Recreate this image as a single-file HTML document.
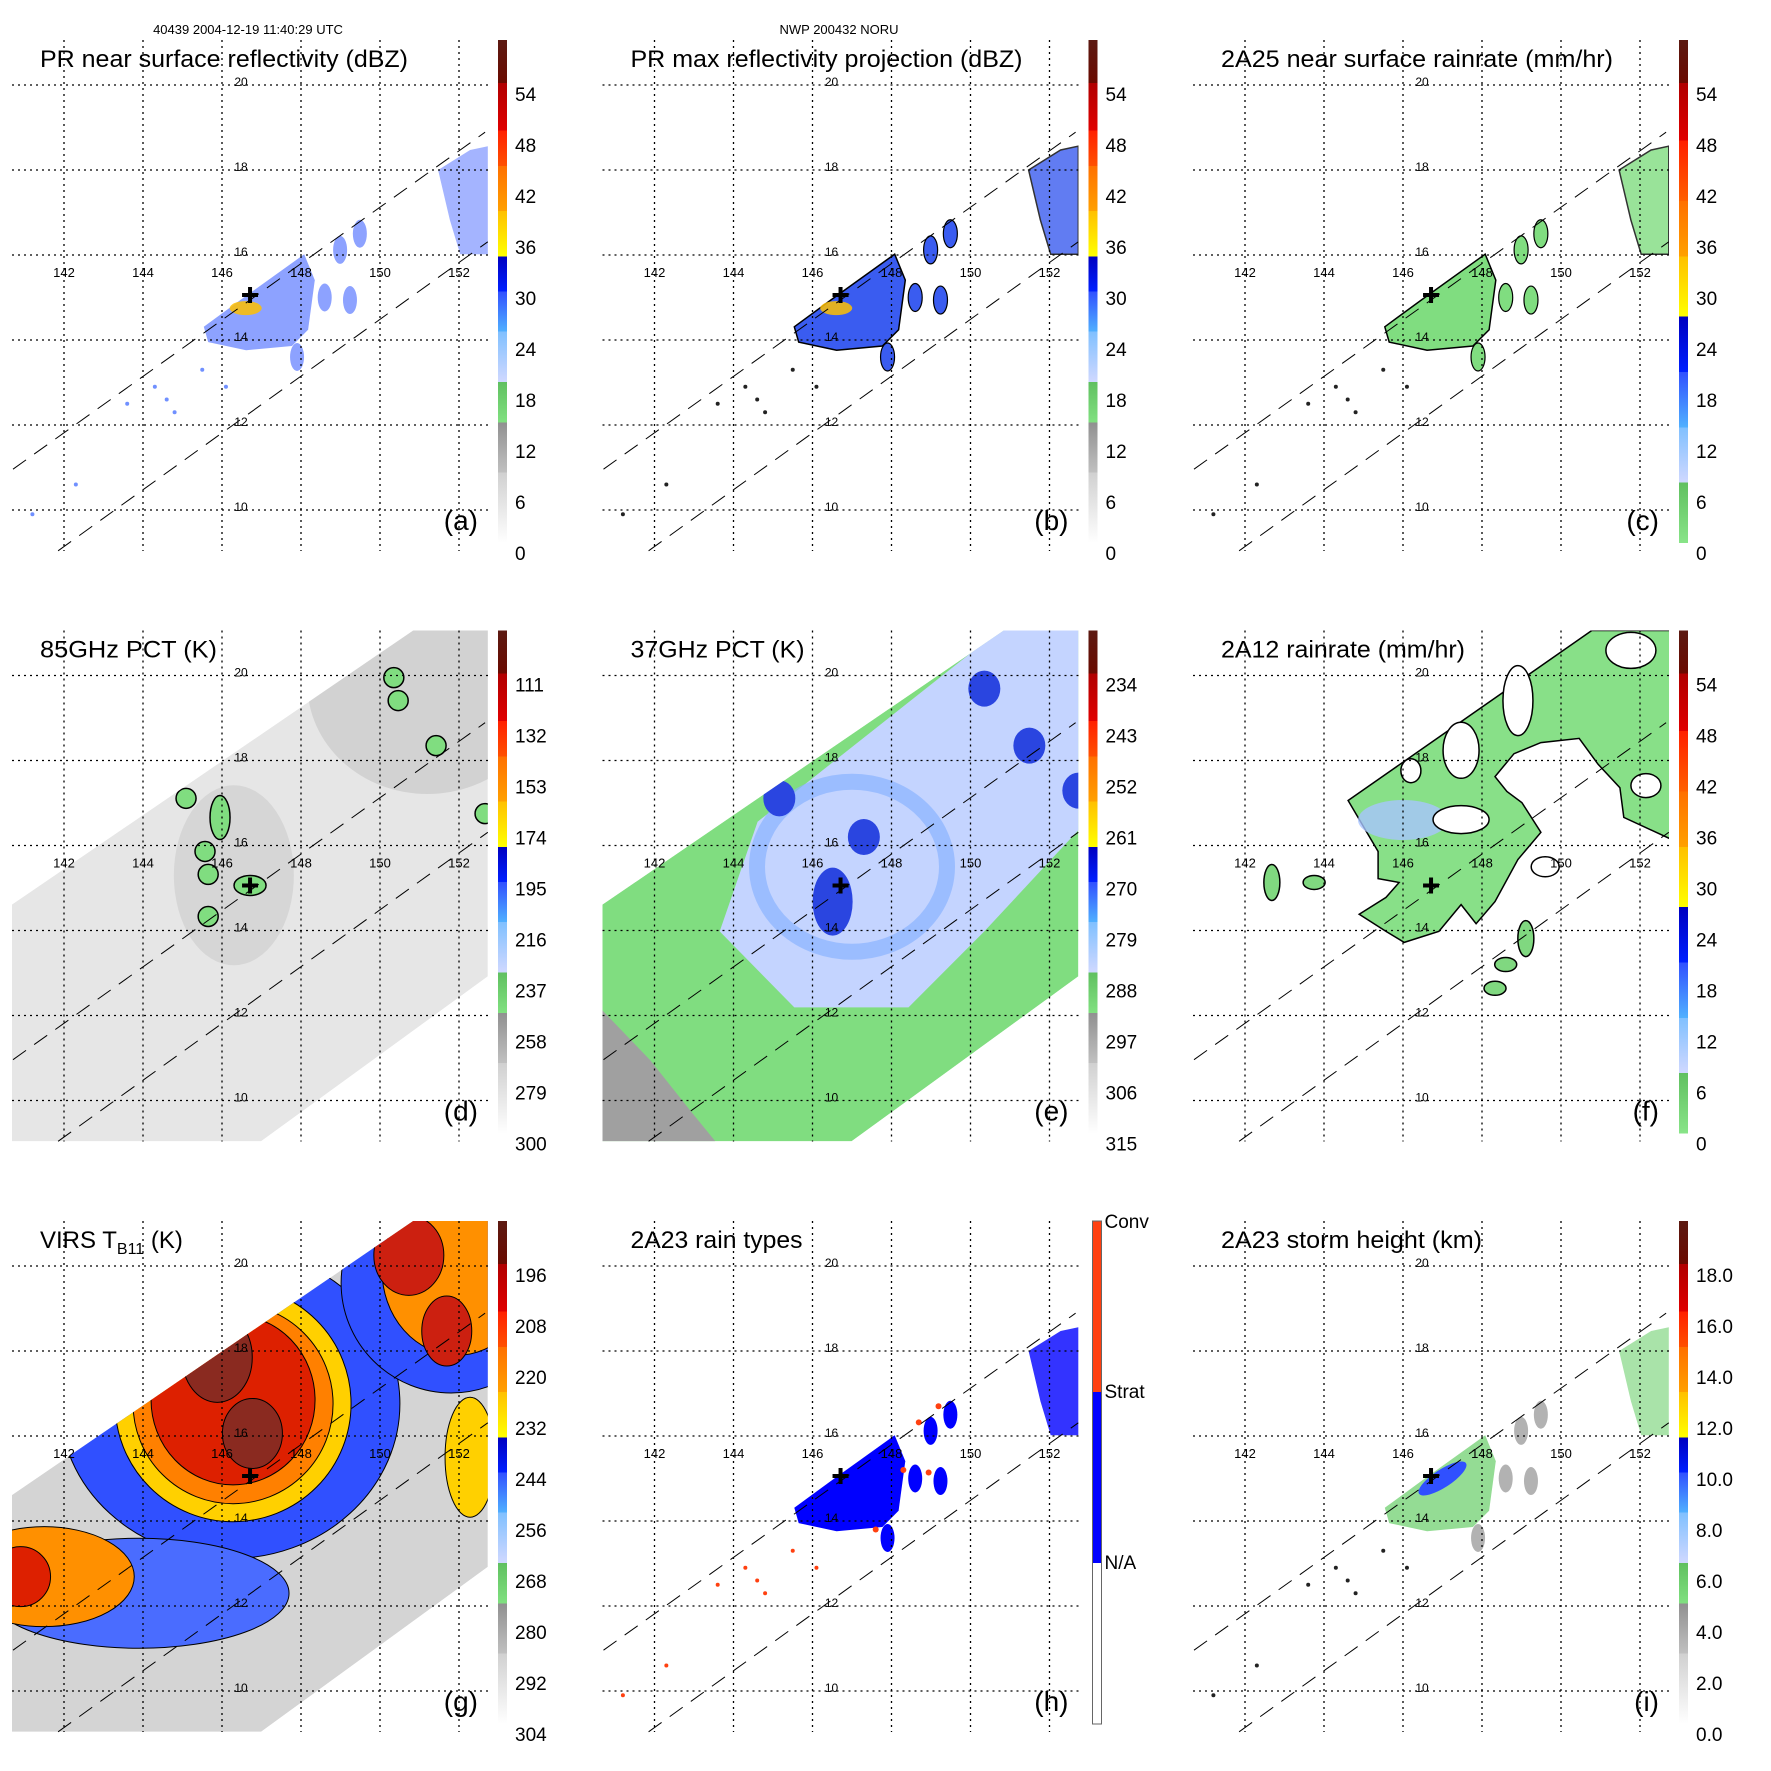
<!DOCTYPE html>
<html><head><meta charset="utf-8"><style>
html,body{margin:0;padding:0;background:#fff;}
svg{display:block;font-family:"Liberation Sans",Arial,sans-serif;}
</style></head><body>
<svg id="fig" xmlns="http://www.w3.org/2000/svg" width="1771" height="1771" viewBox="0 0 1771 1771">
<rect x="0" y="0" width="1771" height="1771" fill="#fff"/>
<defs><clipPath id="plotclip"><rect x="12" y="40" width="476" height="511"/></clipPath><clipPath id="swathclip"><polygon id="swathclippoly" points="0,0"/></clipPath></defs>
<text x="248" y="34" font-size="13" text-anchor="middle">40439 2004-12-19 11:40:29 UTC</text>
<text x="839" y="34" font-size="13" text-anchor="middle">NWP 200432 NORU</text>
</svg>
<script>
// ---- data arrays ----
const lonTicks=[142,144,146,148,150,152];
const latTicks=[10,12,14,16,18,20];
const stormLon=146.71, stormLat=15.06;
const cbDbz=['54','48','42','36','30','24','18','12','6','0'];
const cb85=['111','132','153','174','195','216','237','258','279','300'];
const cb37=['234','243','252','261','270','279','288','297','306','315'];
const cbVirs=['196','208','220','232','244','256','268','280','292','304'];
const cbHeight=['18.0','16.0','14.0','12.0','10.0','8.0','6.0','4.0','2.0','0.0'];
const cbTypes=['Conv','Strat','N/A'];
// swath (TMI/VIRS) boundary
const swathLon=[140.68,150.84,152.73,152.73,146.99,140.68];
const swathLat=[14.61,21.06,21.06,12.92,9.04,9.04];
// PR swath edges
const edgeLon1=[140.71,152.66], edgeLat1=[10.96,18.89];
const edgeLon2=[141.85,152.73], edgeLat2=[9.04,16.31];
// PR rain areas
const prMainLon=[145.54,146.46,148.08,148.35,148.18,147.77,146.61,145.65];
const prMainLat=[14.31,14.94,16.02,15.41,14.24,13.86,13.76,13.95];
const prNELon=[151.47,152.28,152.73,152.73,152.03,151.77];
const prNELat=[18.0,18.47,18.56,16.02,16.02,16.82];
const prCellLon=[148.99,149.24,149.49,148.6,147.9];
const prCellLat=[16.12,14.94,16.5,15.0,13.6];
const prDotLon=[144.3,144.8,143.6,145.5,142.3,146.1,144.6,141.2];
const prDotLat=[12.9,12.3,12.5,13.3,10.6,12.9,12.6,9.9];
// 85GHz scattering cells
const d85Lon=[145.09,145.95,145.57,145.65,146.71,145.65,150.35,150.46,151.42,152.66];
const d85Lat=[17.11,16.66,15.86,15.32,15.06,14.33,19.95,19.41,18.35,16.75];
// 37GHz regions
const e37BlueLon=[144.61,150.73,152.84,152.84,150.35,148.43,145.54,143.65];
const e37BlueLat=[16.56,21.06,21.06,16.47,13.98,12.19,12.19,13.98];
const e37LandLon=[140.68,141.9,142.91,143.54,140.68];
const e37LandLat=[12.12,10.94,9.76,9.04,9.04];
const e37CellLon=[146.51,150.35,151.49,145.16,152.73,147.3];
const e37CellLat=[14.68,19.69,18.35,17.11,17.29,16.2];
// 2A12 rain region
const f12Lon=[144.61,150.78,152.76,152.76,151.59,151.49,150.94,150.46,149.49,148.81,148.33,148.63,149.01,149.49,148.91,148.33,147.85,147.47,146.91,146.03,145.57,144.89,145.57,145.9,145.37,145.37];
const f12Lat=[17.06,21.06,21.06,16.16,16.66,17.36,17.91,18.52,18.42,18.16,17.62,17.27,17.01,16.31,15.67,14.68,14.16,14.61,13.98,13.72,13.98,14.38,14.78,15.13,15.22,15.86];
const f12HoleLon=[147.47,148.91,147.47,146.2,151.77,152.15,149.6];
const f12HoleLat=[18.24,19.41,16.61,17.76,20.59,17.41,15.5];
const f12IsleLon=[142.68,143.75,148.33,149.11,148.6];
const f12IsleLat=[15.13,15.13,12.64,13.81,13.2];
// VIRS cloud-top layers
const gLon=[146.2,143.9,141.5,146.28,146.28,146.28,145.88,146.77,151.8,151.95,150.73,151.69,152.28,140.9];
const gLat=[16.76,12.3,12.69,16.76,16.76,16.85,17.85,16.06,19.6,19.9,20.25,18.47,15.5,12.69];

// ---- axis functions ----
function xOf(lon){return 64+(lon-142)*39.5;}
function yOf(lat){return 85+(20-lat)*42.5;}
function pts(lo,la){return lo.map((l,i)=>xOf(l).toFixed(1)+','+yOf(la[i]).toFixed(1)).join(' ');}

const NS='http://www.w3.org/2000/svg';
const svg=document.getElementById('fig');
document.getElementById('swathclippoly').setAttribute('points',pts(swathLon,swathLat));
function mk(tag,attrs,parent){const e=document.createElementNS(NS,tag);for(const k in attrs)e.setAttribute(k,attrs[k]);parent.appendChild(e);return e;}

const cbStd=[[0,'#5c1a12'],[0.085,'#6a0a00'],[0.085,'#b00000'],[0.18,'#e00000'],[0.18,'#ff2000'],[0.25,'#ff5000'],[0.25,'#ff7000'],[0.34,'#ffa000'],[0.34,'#ffc000'],[0.43,'#ffff00'],[0.43,'#0000c0'],[0.5,'#0020ff'],[0.5,'#3050ff'],[0.58,'#50b0ff'],[0.58,'#80c0ff'],[0.68,'#d0d8ff'],[0.68,'#60c060'],[0.76,'#80e080'],[0.76,'#909090'],[0.86,'#c0c0c0'],[0.86,'#d0d0d0'],[1,'#ffffff']];
const cbRain=[[0,'#5c1a12'],[0.085,'#6a0a00'],[0.085,'#b00000'],[0.2,'#e00000'],[0.2,'#ff2000'],[0.32,'#ff6000'],[0.32,'#ff7000'],[0.43,'#ffa000'],[0.43,'#ffc000'],[0.55,'#ffff00'],[0.55,'#0000c0'],[0.66,'#0020ff'],[0.66,'#3050ff'],[0.77,'#50b0ff'],[0.77,'#80c0ff'],[0.88,'#d0d8ff'],[0.88,'#60c060'],[1,'#88e488']];
const cbRT=[[0,'#ff4010'],[0.34,'#ff4010'],[0.34,'#0000ff'],[0.68,'#0000ff'],[0.68,'#ffffff'],[1,'#ffffff']];

const panels=[
 {k:'a',c:0,r:0,title:'PR near surface reflectivity (dBZ)',tw:368,labels:cbDbz,cb:cbStd},
 {k:'b',c:1,r:0,title:'PR max reflectivity projection (dBZ)',tw:392,labels:cbDbz,cb:cbStd},
 {k:'c',c:2,r:0,title:'2A25 near surface rainrate (mm/hr)',tw:392,labels:cbDbz,cb:cbRain},
 {k:'d',c:0,r:1,title:'85GHz PCT (K)',tw:177,labels:cb85,cb:cbStd},
 {k:'e',c:1,r:1,title:'37GHz PCT (K)',tw:174,labels:cb37,cb:cbStd},
 {k:'f',c:2,r:1,title:'2A12 rainrate (mm/hr)',tw:244,labels:cbDbz,cb:cbRain},
 {k:'g',c:0,r:2,title:'VIRS',tw:0,labels:cbVirs,cb:cbStd},
 {k:'h',c:1,r:2,title:'2A23 rain types',tw:172,labels:cbTypes,cb:cbRT},
 {k:'i',c:2,r:2,title:'2A23 storm height (km)',tw:261,labels:cbHeight,cb:cbStd}
];

function ell(g,lon,lat,rx,ry,fill,extra){const e=mk('ellipse',Object.assign({cx:xOf(lon),cy:yOf(lat),rx:rx,ry:ry,fill:fill},extra||{}),g);return e;}

function drawData(p,g0){
 const k=p.k;
 let g=g0;
 if(k==='d'||k==='e'||k==='g'){
  g=mk('g',{'clip-path':'url(#swathclip)'},g0);
  
 }
 if(k==='a'||k==='b'||k==='c'||k==='h'||k==='i'){
  let fill='#5070ff',stroke='none',op=0.65;
  if(k==='b'){fill='#3a5cf0';stroke='#000';op=1;}
  if(k==='c'){fill='#80dd80';stroke='#000';op=1;}
  if(k==='h'){fill='#0000ff';op=1;}
  if(k==='i'){fill='#88d888';op=0.9;}
  const m=mk('polygon',{points:pts(prMainLon,prMainLat),fill:fill,stroke:stroke,'stroke-width':1.5,opacity:op},g);
  
  const n=mk('polygon',{points:pts(prNELon,prNELat),fill:fill,stroke:stroke,'stroke-width':1.5,opacity:op*0.8},g);
  
  for(let i=0;i<prCellLon.length;i++){
   const c=ell(g,prCellLon[i],prCellLat[i],7,14,k==='i'?'#aaaaaa':fill,{stroke:stroke,'stroke-width':1.2,opacity:op});
   
  }
  for(let i=0;i<prDotLon.length;i++){
   const d=ell(g,prDotLon[i],prDotLat[i],2,2,k==='h'?'#ff4010':(k==='a'?'#7090ff':'#222'));
   
  }
  if(k==='a'||k==='b'){
   const y=ell(g,146.6,14.75,16,7,'#ffc000',{opacity:0.85});
   
  }
  if(k==='i'){
   const b=ell(g,147.0,15.0,28,9,'#3050ff',{transform:`rotate(-33 ${xOf(147)} ${yOf(15)})`});
   
  }
  if(k==='h'){
   for(let i=0;i<prCellLon.length;i++){
    const o=ell(g,prCellLon[i]-0.3,prCellLat[i]+0.2,3,3,'#ff4010');
    
   }
  }
 }
 if(k==='d'||k==='e'||k==='g'){
  const s=mk('polygon',{points:pts(swathLon,swathLat),fill:k==='d'?'#e6e6e6':(k==='e'?'#80dd80':'#d4d4d4')},g);
  
 }
 if(k==='d'){
  const sh=ell(g,151.2,19.8,120,110,'#cdcdcd',{opacity:0.8});
  
  const sh2=ell(g,146.3,15.3,60,90,'#d2d2d2',{opacity:0.8});
  
  for(let i=0;i<d85Lon.length;i++){
   const c=ell(g,d85Lon[i],d85Lat[i],i===4?16:10,i===1?22:10,'#80dd80',{stroke:'#000','stroke-width':1.5});
   
  }
 }
 if(k==='e'){
  const b=mk('polygon',{points:pts(e37BlueLon,e37BlueLat),fill:'#c4d4ff'},g);
  
  const r=ell(g,147.0,15.5,95,85,'none',{stroke:'#8ab4ff','stroke-width':16,opacity:0.7});
  
  const l=mk('polygon',{points:pts(e37LandLon,e37LandLat),fill:'#a0a0a0'},g);
  
  for(let i=0;i<e37CellLon.length;i++){
   const c=ell(g,e37CellLon[i],e37CellLat[i],i===0?20:16,i===0?34:18,'#2a45e0');
   
  }
 }
 if(k==='f'){
  const a=mk('polygon',{points:pts(f12Lon,f12Lat),fill:'#88e088',stroke:'#000','stroke-width':1.5},g);
  
  const lb=ell(g,146.0,16.6,45,20,'#a8c4ff',{opacity:0.8});
  
  const hr=[[18,28],[15,35],[28,14],[10,12],[25,18],[15,12],[14,10]];
  for(let i=0;i<f12HoleLon.length;i++){
   const h=ell(g,f12HoleLon[i],f12HoleLat[i],hr[i][0],hr[i][1],'#fff',{stroke:'#000','stroke-width':1.5});
   
  }
  for(let i=0;i<f12IsleLon.length;i++){
   const c=ell(g,f12IsleLon[i],f12IsleLat[i],i===0||i===3?8:11,i===0||i===3?18:7,'#80d880',{stroke:'#000','stroke-width':1.5});
   
  }
 }
 if(k==='g'){
  const sty=[[170,155,'#3050ff'],[150,55,'#4a6cff'],[90,50,'#ff9000'],[118,118,'#ffd000'],[100,100,'#ff8000'],[82,85,'#dd2000'],[35,45,'#8a2a20'],[30,35,'#8a2a20'],[110,110,'#3050ff'],[75,85,'#ff9000'],[35,40,'#cc2010'],[25,35,'#cc2010'],[25,60,'#ffd000'],[30,30,'#dd2000']];
  for(let i=0;i<gLon.length;i++){
   const c=ell(g,gLon[i],gLat[i],sty[i][0],sty[i][1],sty[i][2],{stroke:'#000','stroke-width':1});
   
  }
 }
}

panels.forEach(p=>{
 const g=mk('g',{transform:`translate(${p.c*590.5},${p.r*590.5})`},svg);
 
 const dg=mk('g',{'clip-path':'url(#plotclip)'},g);
 
 drawData(p,dg);
 lonTicks.forEach(l=>{
  const ln=mk('line',{x1:xOf(l),x2:xOf(l),y1:40,y2:551,stroke:'#000','stroke-width':1.3,'stroke-dasharray':'2,4'},g);
  
  const t=mk('text',{x:xOf(l),y:277,'font-size':13,'text-anchor':'middle'},g);
  
  t.textContent=l;
 });
 latTicks.forEach(l=>{
  const ln=mk('line',{x1:12,x2:488,y1:yOf(l),y2:yOf(l),stroke:'#000','stroke-width':1.3,'stroke-dasharray':'2,4'},g);
  
  const t=mk('text',{x:241,y:yOf(l)+1,'font-size':12,'text-anchor':'middle'},g);
  
  t.textContent=l;
 });
 const e1=mk('polyline',{points:pts(edgeLon1,edgeLat1),fill:'none',stroke:'#000','stroke-width':1,'stroke-dasharray':'16,10'},g);
 
 const e2=mk('polyline',{points:pts(edgeLon2,edgeLat2),fill:'none',stroke:'#000','stroke-width':1,'stroke-dasharray':'16,10'},g);
 
 const cx=xOf(stormLon),cy=yOf(stormLat);
 const cr=mk('path',{d:`M${cx-8},${cy}H${cx+8}M${cx},${cy-8}V${cy+8}`,stroke:'#000','stroke-width':4},g);
 
 const tt=mk('text',{x:40,y:67,'font-size':24},g);
 
 if(p.k==='g'){
  tt.textContent='VIRS T';
  const sub=mk('tspan',{'font-size':16,dy:6},tt);
  sub.textContent='B11';
  const rest=mk('tspan',{dy:-6},tt);
  rest.textContent=' (K)';
 } else {
  tt.setAttribute('textLength',p.tw);
  tt.setAttribute('lengthAdjust','spacingAndGlyphs');
  tt.textContent=p.title;
 }
 const lt=mk('text',{x:478,y:530,'font-size':28,'text-anchor':'end'},g);
 
 lt.textContent='('+p.k+')';
 const gid='cbg'+p.k;
 const lg=mk('linearGradient',{id:gid,x1:0,y1:0,x2:0,y2:1},svg.querySelector('defs'));
 p.cb.forEach(s=>{mk('stop',{offset:s[0],'stop-color':s[1]},lg);});
 const cbx=p.k==='h'?502:498;
 const bar=mk('rect',{x:cbx,y:40,width:9,height:503,fill:`url(#${gid})`,stroke:p.k==='h'?'#666':'none','stroke-width':1},g);
 
 if(p.k==='h'){
  const ys=[47,217,388];
  p.labels.forEach((s,i)=>{
   const t=mk('text',{x:514,y:ys[i],'font-size':19},g);
   
   t.textContent=s;
  });
 } else {
  p.labels.forEach((s,i)=>{
   const t=mk('text',{x:515,y:101+51*i,'font-size':19},g);
   
   t.textContent=s;
  });
 }
});
</script>
</body></html>
